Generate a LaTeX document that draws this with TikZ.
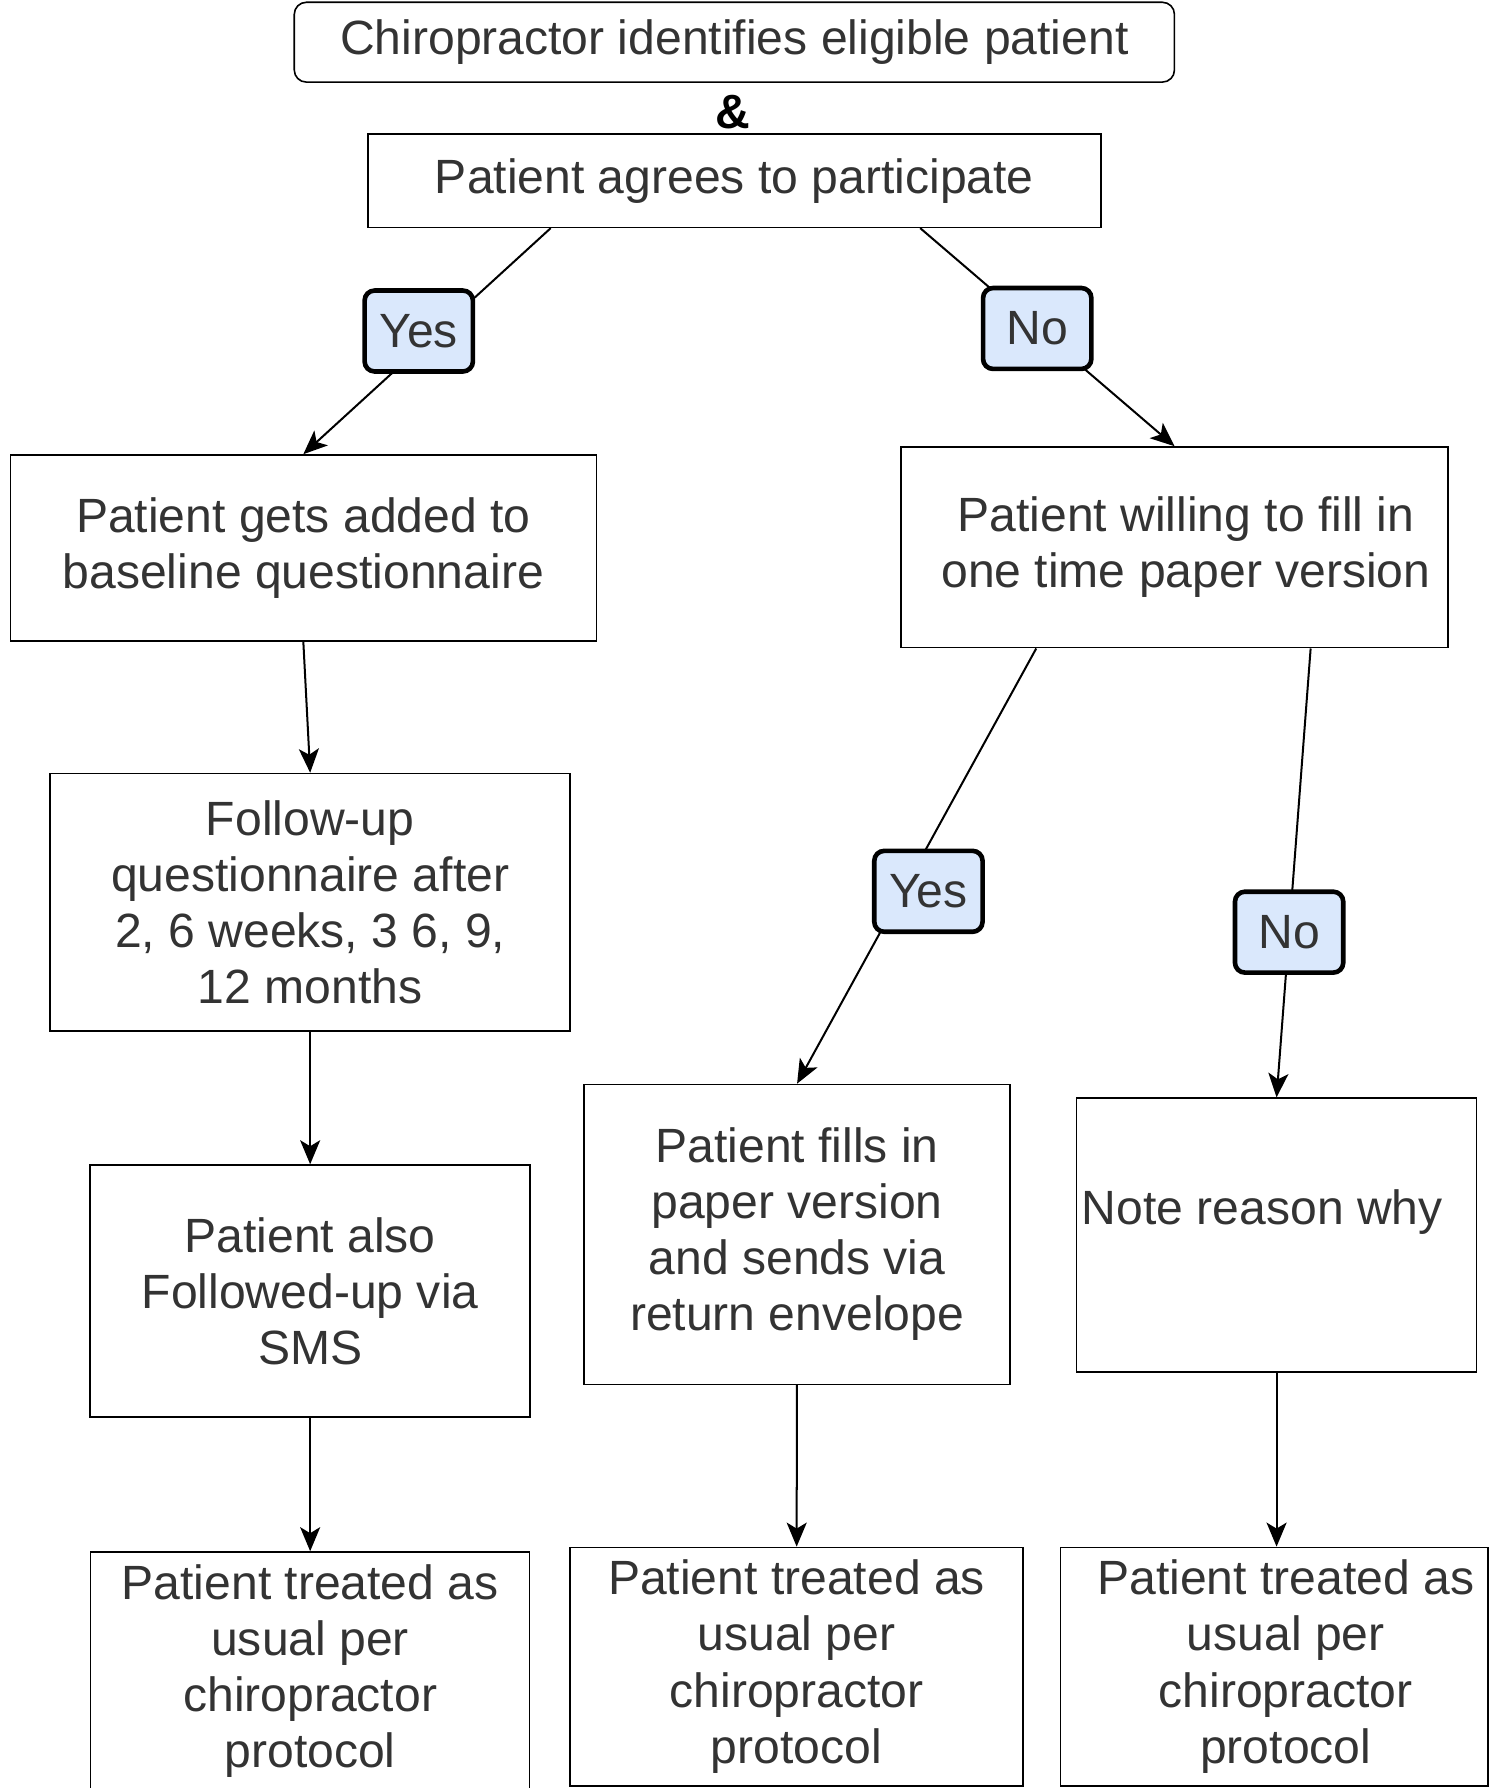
\documentclass[tikz,border=0pt]{standalone}
\usepackage{fontspec}
\setmainfont{Liberation Sans}
\usetikzlibrary{positioning, calc, arrows.meta}
\definecolor{answerblue}{HTML}{DAE8FC}
\definecolor{textgrey}{HTML}{333333}
\tikzset{
	stepbox/.style={draw, rectangle, line width=0.8pt, align=center, inner sep=2pt, text=textgrey},
	startbox/.style={stepbox, rounded corners=6pt},
	answer/.style={draw, rectangle, rounded corners=5pt, line width=2.3pt, fill=answerblue, text=textgrey,
		minimum width=1.9cm, minimum height=1.42cm, inner sep=0pt},
	link/.style={line width=1pt, black},
	arrow/.style={link, -{Stealth[length=12pt, width=10pt, inset=3pt]}},
}

\begin{document}
\begin{tikzpicture}[x=0.02cm, y=-0.02cm, font=\fontsize{24}{28}\selectfont]
	\useasboundingbox (0,0) rectangle (1306,1568);
	
	% top
	\node (identify) [startbox, minimum width=15.44cm, minimum height=1.4cm] at (644,37) {Chiropractor identifies eligible patient};
	\node (amp) [font=\fontsize{24}{28}\selectfont\bfseries] at (643,98) {\&};
	\node (agrees) [stepbox, minimum width=12.86cm, minimum height=1.64cm, below=0.88cm of identify] {Patient agrees to participate};
	
	% yes column
	\node (baseline) [stepbox, minimum width=10.28cm, minimum height=3.26cm] at (266,480.5) {Patient gets added to\\baseline questionnaire};
	\node (followup) [stepbox, minimum width=9.12cm, minimum height=4.52cm, below=2.3cm of baseline, xshift=0.12cm] {Follow-up\\questionnaire after\\2, 6 weeks, 3 6, 9,\\12 months};
	\node (sms) [stepbox, minimum width=7.72cm, minimum height=4.42cm, below=2.32cm of followup] {Patient also\\Followed-up via\\SMS};
	\node (treatA) [stepbox, minimum width=7.7cm, minimum height=4.18cm, below=2.34cm of sms] {Patient treated as\\usual per\\chiropractor\\protocol};
	
	% no column
	\node (willing) [stepbox, minimum width=9.6cm, minimum height=3.52cm] at (1030,480) {\hspace*{0.4cm}Patient willing to fill in\\\hspace*{0.4cm}one time paper version};
	\node (fills) [stepbox, minimum width=7.48cm, minimum height=5.26cm] at (699,1082.5) {Patient fills in\\paper version\\and sends via\\return envelope};
	\node (note) [stepbox, minimum width=7.02cm, minimum height=4.8cm] at (1119.5,1083) {Note reason why\hspace*{0.5cm}\\\mbox{}};
	\node (treatB) [stepbox, minimum width=7.94cm, minimum height=4.18cm] at (698.5,1461.5) {Patient treated as\\usual per\\chiropractor\\protocol};
	\node (treatC) [stepbox, minimum width=7.5cm, minimum height=4.18cm] at (1117.5,1461.5) {\hspace*{0.4cm}Patient treated as\\\hspace*{0.4cm}usual per\\\hspace*{0.4cm}chiropractor\\\hspace*{0.4cm}protocol};
	
	% connectors
	\draw [arrow] ($(agrees.south west)!0.25!(agrees.south east)$) -- node[answer, pos=0.455, xshift=-0.34cm] (yesA) {Yes} (baseline.north);
	\draw [arrow] ($(agrees.south west)!0.753!(agrees.south east)$) -- node[answer, pos=0.46] (noA) {No} (willing.north);
	\draw [arrow] ($(willing.south west)!0.248!(willing.south east)$) -- node[answer, pos=0.558, xshift=0.45cm] (yesB) {Yes} (fills.north);
	\draw [arrow] ($(willing.south west)!0.748!(willing.south east)$) -- node[answer, pos=0.632] (noB) {No} (note.north);
	
	\draw [arrow] (baseline.south) -- (followup.north);
	\draw [arrow] (followup) -- (sms);
	\draw [arrow] (sms) -- (treatA);
	\draw [arrow] (fills) -- (treatB);
	\draw [arrow] (note.south) -- (note.south |- treatC.north);
\end{tikzpicture}
\end{document}
